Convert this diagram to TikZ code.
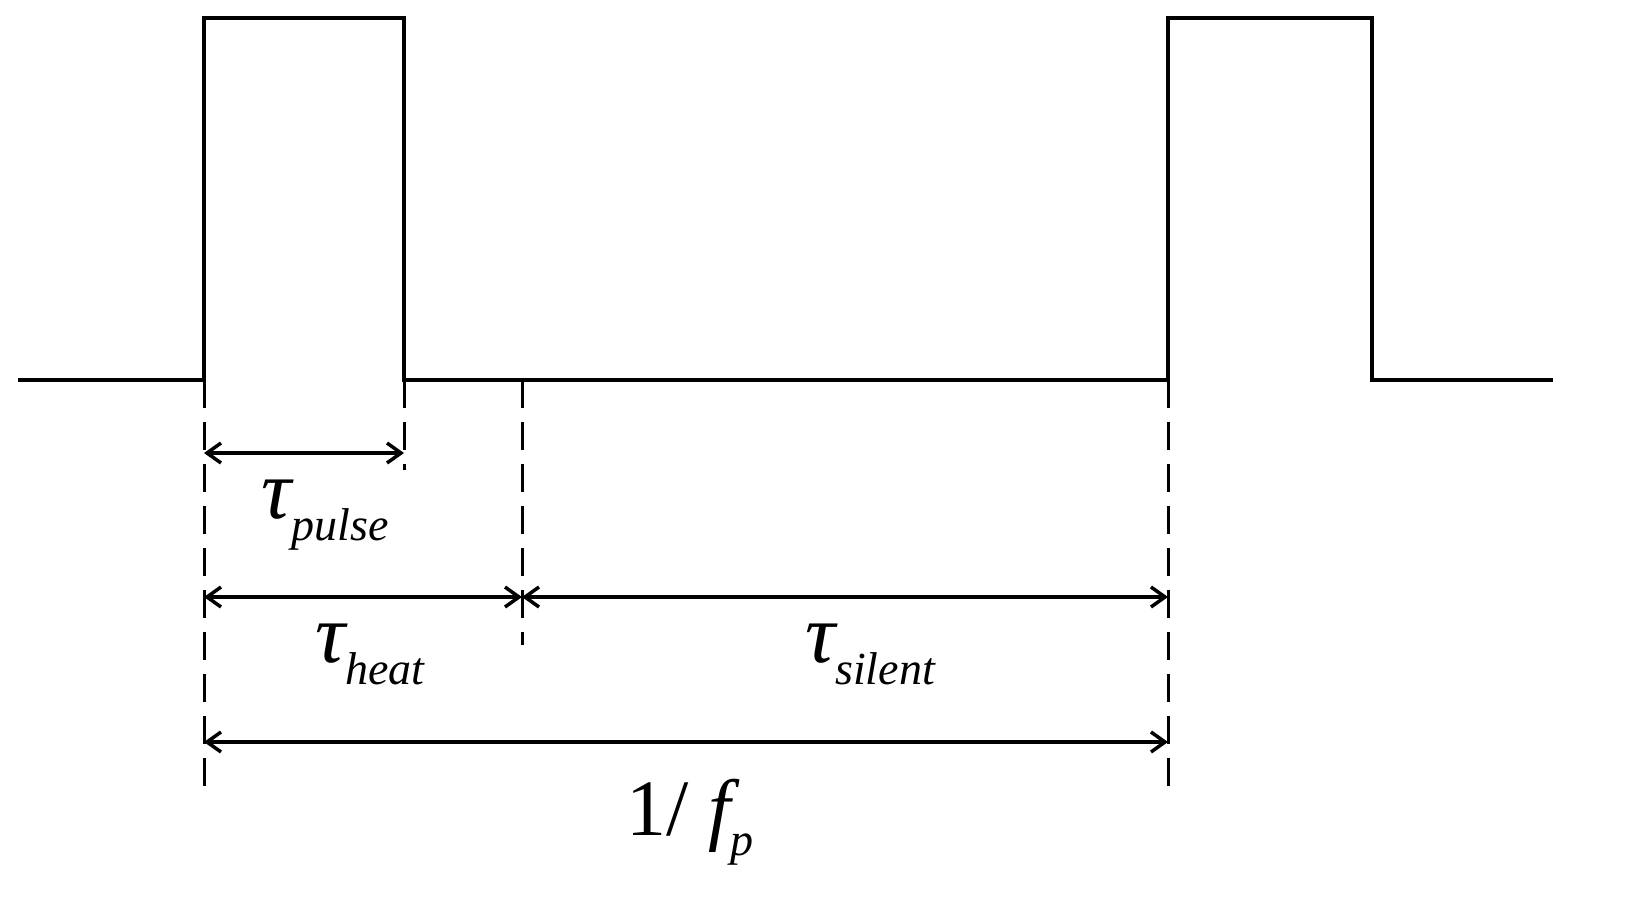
\documentclass[tikz,border=0pt]{standalone}
\usepackage{fontspec}
\setmainfont{Liberation Serif}
\usetikzlibrary{arrows.meta}
\begin{document}
\begin{tikzpicture}[x=1pt,y=-1pt,line width=3.5pt,
  dim/.style={line width=3.5pt,{Straight Barb[length=14pt,width=20pt]}-{Straight Barb[length=14pt,width=20pt]}},
  guide/.style={line width=3pt,dash pattern=on 28pt off 14pt},
  lbl/.style={inner sep=0pt,anchor=base}]
\useasboundingbox (0,0) rectangle (1632,919);
\coordinate (s) at (18,380);
\coordinate (a) at (204,380);
\coordinate (b) at (404,380);
\coordinate (c) at (522,380);
\coordinate (d) at (1168,380);
\coordinate (e) at (1372,380);
\coordinate (f) at (1553,380);
\draw[line join=miter] (s) -- (a) -- (204,18) -- (404,18) -- (b) -- (d) -- (1168,18) -- (1372,18) -- (e) -- (f);
\draw[guide] (a) -- (204,790);
\draw[guide] (b) -- (404,470);
\draw[guide] (c) -- (522,645);
\draw[guide] (d) -- (1168,795);
\coordinate (p1) at (204,453); \coordinate (p2) at (404,453);
\coordinate (h1) at (204,597); \coordinate (h2) at (522,597); \coordinate (h3) at (1168,597);
\coordinate (t1) at (204,742); \coordinate (t2) at (1168,742);
\draw[dim] (p1) -- (p2);
\draw[dim] (h1) -- (h2);
\draw[dim] (h2) -- (h3);
\draw[dim] (t1) -- (t2);
\node[lbl] (lp) at (325,518) {\fontsize{84}{90}\selectfont\itshape τ\raisebox{-22pt}{\fontsize{46}{50}\selectfont pulse}};
\node[lbl] (lh) at (370,662) {\fontsize{84}{90}\selectfont\itshape τ\raisebox{-22pt}{\fontsize{46}{50}\selectfont heat}};
\node[lbl] (ls) at (870,662) {\fontsize{84}{90}\selectfont\itshape τ\raisebox{-22pt}{\fontsize{46}{50}\selectfont silent}};
\node[lbl] (lf) at (690,835) {\fontsize{80}{90}\selectfont 1/ \itshape f\raisebox{-20pt}{\fontsize{46}{50}\selectfont p}};
\end{tikzpicture}
\end{document}
